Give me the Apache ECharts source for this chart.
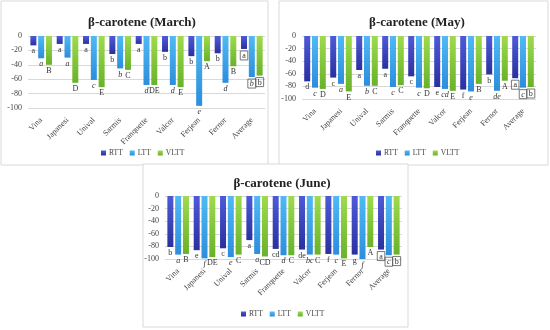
<!DOCTYPE html>
<html><head><meta charset="utf-8">
<script src="https://cdn.jsdelivr.net/npm/echarts@6/dist/echarts.min.js"></script>
<style>html,body{margin:0;padding:0;background:#fff}#c{width:550px;height:330px}</style>
</head><body><div id="c"></div>
<script>
const categories = ['Vina','Japanesi','Unival','Sarmis','Franquette','Valcor','Ferjean','Fernor','Average'];
const seriesNames = ['RTT','LTT','VLTT'];
const yTicks = [0,-20,-40,-60,-80,-100];
const titles = ['β-carotene (March)','β-carotene (May)','β-carotene (June)'];

const marchRTT  = [-13,-11,-11,-25,-11,-22,-28,-24,-18];
const marchLTT  = [-31,-30,-61,-45,-68,-68,-97,-65,-57];
const marchVLTT = [-40,-65,-71,-47,-68,-71,-35,-42,-55];
const marchRTTLetters  = ['a','a','a','b','a','b','b','b','a'];
const marchLTTLetters  = ['a','a','c','b','d','d','e','d','b'];
const marchVLTTLetters = ['B','D','E','C','DE','E','A','B','b'];

const mayRTT  = [-72,-66,-54,-52,-64,-81,-85,-61,-67];
const mayLTT  = [-82,-76,-79,-81,-82,-84,-88,-87,-82];
const mayVLTT = [-84,-88,-79,-78,-83,-87,-76,-71,-81];
const mayRTTLetters  = ['d','c','a','a','c','e','f','b','a'];
const mayLTTLetters  = ['c','a','b','c','c','cd','e','de','c'];
const mayVLTTLetters = ['D','E','C','C','D','E','B','A','b'];

const juneRTT  = [-81,-86,-83,-70,-84,-85,-92,-93,-85];
const juneLTT  = [-93,-99,-97,-92,-94,-93,-93,-100,-94];
const juneVLTT = [-92,-97,-93,-96,-94,-93,-99,-81,-93];
const juneRTTLetters  = ['b','e','c','a','cd','de','f','g','a'];
const juneLTTLetters  = ['a','f','e','a','d','bc','c','f','c'];
const juneVLTTLetters = ['B','DE','C','CD','C','C','E','A','b'];

const panelValues = [[marchRTT,marchLTT,marchVLTT],[mayRTT,mayLTT,mayVLTT],[juneRTT,juneLTT,juneVLTT]];
const panelLetters = [[marchRTTLetters,marchLTTLetters,marchVLTTLetters],[mayRTTLetters,mayLTTLetters,mayVLTTLetters],[juneRTTLetters,juneLTTLetters,juneVLTTLetters]];

const FONT = '"Liberation Serif", "DejaVu Serif", serif';
const colors = [
  ['#4d5ad8','#2b309e'],
  ['#4fbaf3','#2d8ddd'],
  ['#9fdb4c','#68b22a']
];
function grad(c){return {type:'linear',x:0,y:0,x2:0,y2:1,colorStops:[{offset:0,color:c[0]},{offset:1,color:c[1]}]};}

const grids = [
  {left:28, top:36, width:237, height:72},
  {left:302, top:36, width:234, height:63},
  {left:165, top:196, width:237, height:63}
];
const panels = [
  {x:1,y:1,w:267,h:164, tx:137, ty:20, ly:149},
  {x:279,y:1,w:269,h:164, tx:412, ty:20, ly:149},
  {x:143,y:164,w:265,h:163, tx:277, ty:181, ly:310}
];

const option = {
  animation:false,
  backgroundColor:'#fff',
  title: panels.map((p,i)=>({text:titles[i], left:p.tx, top:p.ty-9, textAlign:'center',
    textStyle:{fontFamily:FONT,fontWeight:'bold',fontSize:13,color:'#222'}})),
  grid: grids,
  legend: panels.map((p,i)=>({data:seriesNames, left:p.tx-36, top:p.ly,
    itemWidth:5,itemHeight:5,itemGap:7, icon:'rect', padding:0,
    textStyle:{fontFamily:FONT,fontSize:7.5,color:'#444',padding:[0,0,0,-2]}})),
  xAxis: grids.map((g,i)=>({type:'category', gridIndex:i, data:categories,
    axisLine:{show:false}, axisTick:{show:false},
    axisLabel:{rotate:45, fontFamily:FONT, fontSize:8, color:'#444', margin:11, interval:0}})),
  yAxis: grids.map((g,i)=>({type:'value', gridIndex:i, min:-100, max:0, interval:20,
    axisLine:{show:false}, axisTick:{show:false},
    splitLine:{lineStyle:{color:'#d9d9d9',width:1}},
    axisLabel:{fontFamily:FONT, fontSize:8, color:'#444', margin:6}})),
  series: [],
  graphic: panels.map(p=>({type:'rect', shape:{x:p.x,y:p.y,width:p.w,height:p.h}, z:-10,
    style:{fill:'#fff', stroke:'#d9d9d9', lineWidth:1}}))
};
for(let i=0;i<3;i++){
  for(let s=0;s<3;s++){
    const letters = panelLetters[i][s];
    option.series.push({
      type:'bar', name:seriesNames[s], xAxisIndex:i, yAxisIndex:i,
      data: panelValues[i][s],
      barWidth:6, barGap:'30%',
      itemStyle:{color:grad(colors[s])},
      label:{show:true, position:'bottom', distance:2,
        fontFamily:FONT, fontSize:8, color:'#333', fontStyle: s===1?'italic':'normal',
        formatter:p=> p.dataIndex===8 ? '{b|'+letters[p.dataIndex]+'}' : letters[p.dataIndex],
        rich:{b:{borderColor:'#555',borderWidth:0.8,padding:[1,2,0,2],fontFamily:FONT,fontSize:8,color:'#333'}}}
    });
  }
}
const chart = echarts.init(document.getElementById('c'),null,{renderer:'canvas'});
chart.setOption(option);
</script></body></html>
